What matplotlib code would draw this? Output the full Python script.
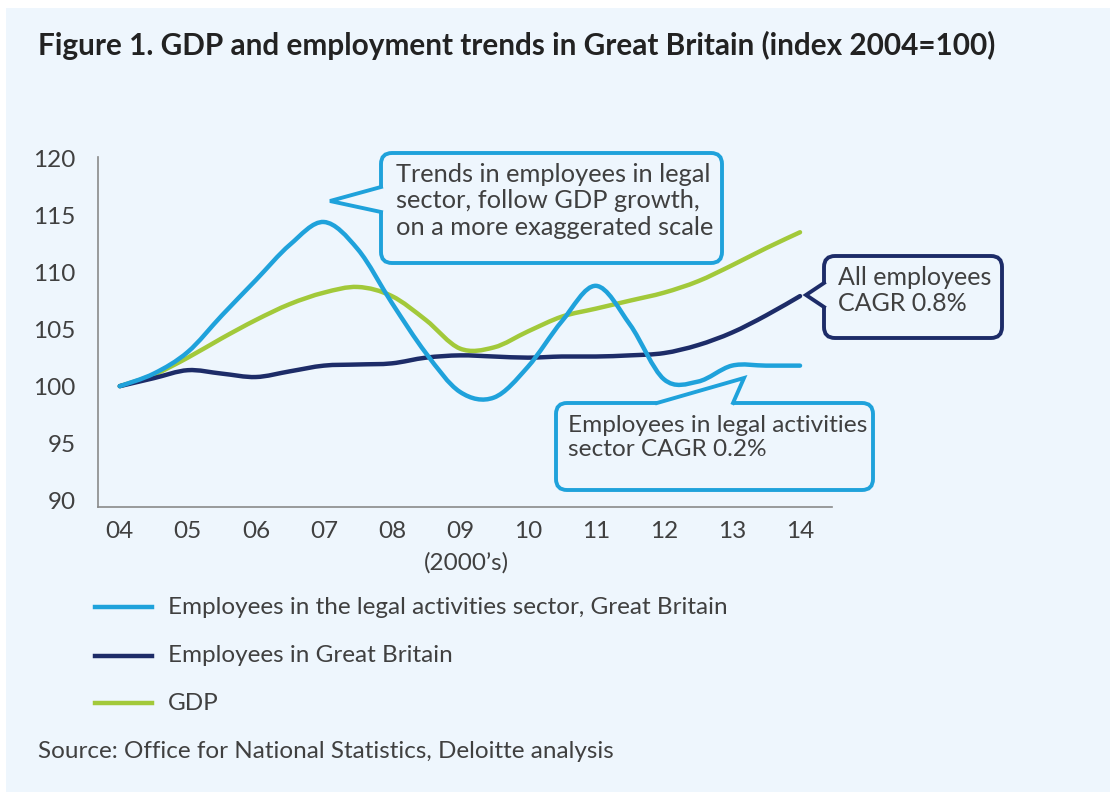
import numpy as np
import matplotlib.pyplot as plt
from matplotlib.path import Path
from matplotlib.patches import PathPatch, FancyBboxPatch, Polygon, Rectangle
from matplotlib.lines import Line2D

# index values (2004 = 100), read every half year
half_years = [4.0, 4.5, 5.0, 5.5, 6.0, 6.5, 7.0, 7.5, 8.0, 8.5, 9.0,
              9.5, 10.0, 10.5, 11.0, 11.5, 12.0, 12.5, 13.0, 13.5, 14.0]
legal = [100.0, 101.1, 103.0, 106.2, 109.3, 112.4, 114.4, 112.0, 107.3, 102.9, 99.5,
         99.0, 101.7, 105.7, 108.8, 105.4, 100.6, 100.4, 101.8, 101.8, 101.8]
employees = [100.0, 100.7, 101.4, 101.1, 100.8, 101.3, 101.8, 101.9, 102.0, 102.5, 102.7,
             102.6, 102.5, 102.6, 102.6, 102.7, 102.9, 103.6, 104.7, 106.2, 107.9]
gdp = [100.0, 101.0, 102.5, 104.2, 105.8, 107.2, 108.2, 108.7, 107.9, 105.8, 103.3,
       103.4, 104.8, 106.1, 106.8, 107.5, 108.2, 109.2, 110.6, 112.1, 113.5]

tick_years = [4, 5, 6, 7, 8, 9, 10, 11, 12, 13, 14]
tick_labels = ['04', '05', '06', '07', '08', '09', '10', '11', '12', '13', '14']
y_ticks = [90, 95, 100, 105, 110, 115, 120]

series_names = ['Employees in the legal activities sector, Great Britain',
                'Employees in Great Britain',
                'GDP']
LIGHT = '#1fa2db'
NAVY = '#1d2c68'
GREEN = '#a2c93a'
BG = '#eef6fd'
TXT = '#404040'

plt.rcParams['font.family'] = ['Lato', 'DejaVu Sans']


def smooth_path(xs, ys):
    # catmull-rom through the points, as cubic bezier segments
    pts = np.column_stack([xs, ys]).astype(float)
    verts = [pts[0]]
    codes = [Path.MOVETO]
    n = len(pts)
    for i in range(n - 1):
        p0 = pts[max(i - 1, 0)]
        p1 = pts[i]
        p2 = pts[i + 1]
        p3 = pts[min(i + 2, n - 1)]
        verts += [p1 + (p2 - p0) / 6, p2 - (p3 - p1) / 6, p2]
        codes += [Path.CURVE4] * 3
    return Path(verts, codes)


fig = plt.figure(figsize=(11.1, 7.92), dpi=100, facecolor='white')
fig.patches.append(Rectangle((6 / 1110, 0), 1, 1 - 8 / 792, transform=fig.transFigure,
                             facecolor=BG, edgecolor='none', zorder=-10))

ax = fig.add_axes([98 / 1110, 1 - 507 / 792, (832 - 98) / 1110, (507 - 157) / 792])
ax.set_facecolor('none')
ax.set_xlim(3.68, 14.47)
ax.set_ylim(89.4, 120.1)

colors = [LIGHT, NAVY, GREEN]
for vals, c in zip([legal, employees, gdp][::-1], colors[::-1]):
    ax.add_patch(PathPatch(smooth_path(half_years, vals), facecolor='none', edgecolor=c,
                           lw=3.2, capstyle='round', joinstyle='round'))

for s in ['top', 'right']:
    ax.spines[s].set_visible(False)
for s in ['left', 'bottom']:
    ax.spines[s].set_color('#8a8a8a')
    ax.spines[s].set_linewidth(1.2)
ax.set_xticks(tick_years)
ax.set_xticklabels(tick_labels)
ax.set_yticks(y_ticks)
ax.tick_params(axis='x', length=0, pad=10, labelsize=17.5, labelcolor=TXT)
ax.tick_params(axis='y', length=0, pad=16, labelsize=17.5, labelcolor=TXT)

# overlay in pixel units for title, callouts, legend and source
ov = fig.add_axes([0, 0, 1, 1], zorder=5)
ov.set_xlim(0, 1110)
ov.set_ylim(792, 0)
ov.axis('off')
ov.patch.set_alpha(0)

ov.text(38, 45, 'Figure 1. GDP and employment trends in Great Britain (index 2004=100)',
        fontsize=21.4, fontweight='bold', color='#222222', va='center', ha='left')
ov.text(466, 563, '(2000\u2019s)', fontsize=17.5, color=TXT, ha='center', va='center')


def callout(x0, y0, x1, y1, base_a, tip, base_b, inward, color, lines, tx, ty, size):
    ov.add_patch(FancyBboxPatch((x0, y0), x1 - x0, y1 - y0,
                                boxstyle='round,pad=0,rounding_size=11',
                                facecolor=BG, edgecolor=color, lw=2.8))
    # cover the box edge under the pointer, then draw its two sides
    dx, dy = inward
    cover = [(base_a[0] + dx, base_a[1] + dy), base_a, tip, base_b,
             (base_b[0] + dx, base_b[1] + dy)]
    ov.add_patch(Polygon(cover, closed=True, facecolor=BG, edgecolor='none', zorder=3))
    ov.add_line(Line2D([base_a[0], tip[0], base_b[0]], [base_a[1], tip[1], base_b[1]],
                       color=color, lw=2.8, solid_joinstyle='miter', zorder=4))
    ov.text(tx, ty, '\n'.join(lines), fontsize=size, color=TXT, ha='left', va='top',
            linespacing=1.18, zorder=5)


callout(381, 153, 722, 263, (381, 187), (330, 201), (381, 212), (5, 0), LIGHT,
        ['Trends in employees in legal', 'sector, follow GDP growth,',
         'on a more exaggerated scale'], 396, 163, 18.3)
callout(824, 256, 1002, 338, (824, 283), (806, 295), (824, 307), (5, 0), NAVY,
        ['All employees', 'CAGR 0.8%'], 838, 266, 18)
callout(556, 403, 873, 490, (657, 403), (744, 378), (733, 403), (0, 5), LIGHT,
        ['Employees in legal activities', 'sector CAGR 0.2%'], 568, 415, 17.6)

for name, c, y in zip(series_names, colors, [607, 656, 703]):
    ov.add_line(Line2D([95, 152], [y, y], color=c, lw=3.2))
    ov.text(168, y, name, fontsize=17.5, color=TXT, ha='left', va='center')

ov.text(38, 752, 'Source: Office for National Statistics, Deloitte analysis',
        fontsize=17.5, color=TXT, ha='left', va='center')

fig.savefig('out.png', dpi=100, facecolor=fig.get_facecolor())
